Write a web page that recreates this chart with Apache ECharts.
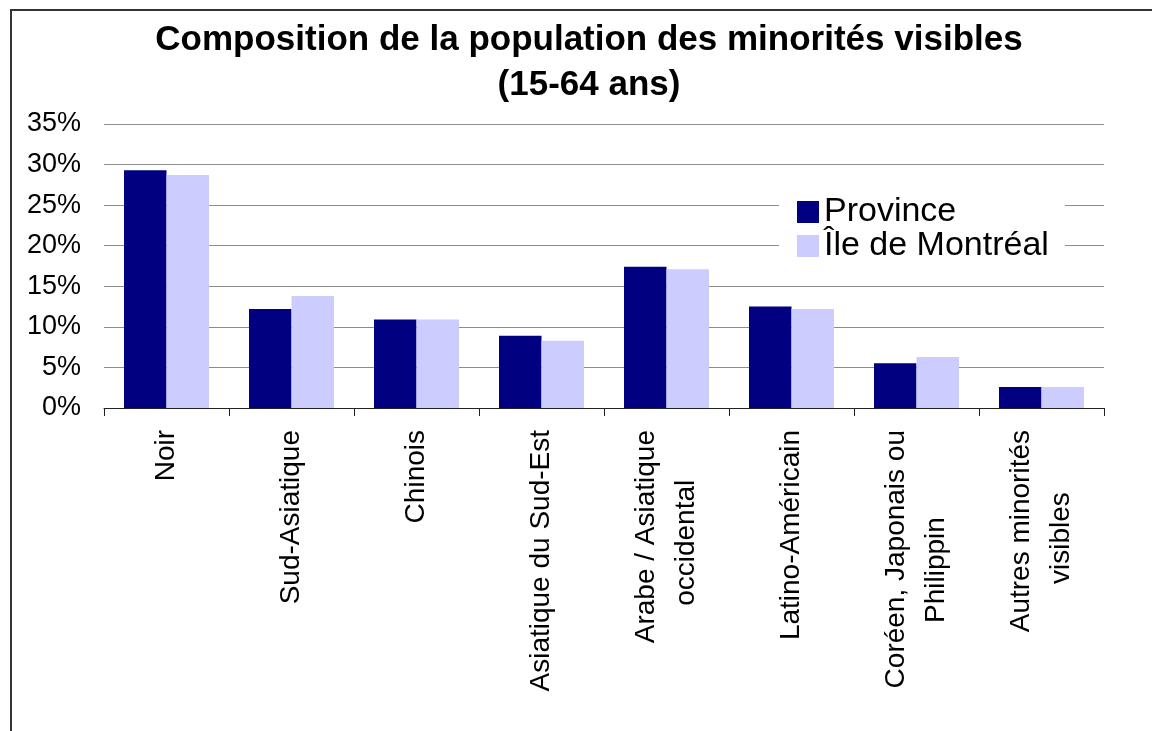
<!DOCTYPE html>
<html>
<head>
<meta charset="utf-8">
<script src="https://cdn.jsdelivr.net/npm/echarts@6/dist/echarts.min.js"></script>
<style>
  html, body { margin: 0; padding: 0; background: #fff; }
  #chart { width: 1152px; height: 731px; }
</style>
</head>
<body>
<div id="chart"></div>
<script>
// données
const categories = [
  'Noir',
  'Sud-Asiatique',
  'Chinois',
  'Asiatique du Sud-Est',
  'Arabe / Asiatique\noccidental',
  'Latino-Américain',
  'Coréen, Japonais ou\nPhilippin',
  'Autres minorités\nvisibles'
];
const province = [29.3, 12.2, 10.9, 8.9, 17.4, 12.5, 5.5, 2.6];
const montreal = [28.7, 13.8, 10.9, 8.3, 17.1, 12.2, 6.3, 2.6];
const yTicks = { min: 0, max: 35, interval: 5 };

const FONT = '"Liberation Sans", Arial, sans-serif';
const LABEL_SIZE = 28;

// les étiquettes sur deux lignes sont centrées l'une sur l'autre :
// les lignes s'alignent côté axe, on ajoute donc un bout de texte
// transparent au bout de la ligne courte pour la recentrer
const ctx = document.createElement('canvas').getContext('2d');
ctx.font = LABEL_SIZE + 'px ' + FONT;
const padW = ctx.measureText('i').width;
const centerLines = (cat) => {
  const lines = String(cat).split('\n');
  const widths = lines.map(s => ctx.measureText(s).width);
  const maxW = Math.max(...widths);
  return lines.map((s, j) => {
    const shift = widths[j] < maxW ? (maxW - widths[j]) / 2 + 8 : 0; // Excel garde l'espace de fin de ligne
    const n = Math.round(shift / padW);
    return '{t|' + s + '}' + (n > 0 ? '{p|' + 'i'.repeat(n) + '}' : '');
  }).join('\n');
};

const chart = echarts.init(document.getElementById('chart'));

const option = {
  backgroundColor: '#fff',
  animation: false,
  title: {
    text: 'Composition de la population des minorités visibles\n(15-64 ans)',
    left: 584,
    top: 13,
    textAlign: 'center',
    textStyle: {
      fontFamily: FONT,
      fontSize: 35,
      fontWeight: 'bold',
      color: '#000',
      lineHeight: 45
    }
  },
  legend: {
    orient: 'vertical',
    left: 779,
    top: 185,
    padding: [10, 16, 10, 18],
    backgroundColor: '#fff',
    itemWidth: 22,
    itemHeight: 22,
    itemGap: 0,
    icon: 'rect',
    textStyle: { fontFamily: FONT, fontSize: 34, color: '#000' },
    data: ['Province', 'Île de Montréal']
  },
  grid: { left: 104, right: 48, top: 124, bottom: 323, containLabel: false },
  xAxis: {
    type: 'category',
    data: categories,
    axisLine: { lineStyle: { color: '#222', width: 1 } },
    axisTick: { show: true, length: 8, lineStyle: { color: '#222' } },
    axisLabel: {
      interval: 0,
      rotate: 90,
      margin: 22,
      color: '#000',
      fontFamily: FONT,
      fontSize: LABEL_SIZE,
      lineHeight: 40,
      formatter: function (value) { return centerLines(value); },
      rich: {
        t: { fontFamily: FONT, fontSize: LABEL_SIZE, lineHeight: 40, color: '#000' },
        p: { fontFamily: FONT, fontSize: LABEL_SIZE, lineHeight: 40, color: 'rgba(0,0,0,0)' }
      }
    }
  },
  yAxis: {
    type: 'value',
    min: yTicks.min,
    max: yTicks.max,
    interval: yTicks.interval,
    axisLine: { show: false },
    axisTick: { show: false },
    splitLine: { lineStyle: { color: '#8c8c8c', width: 1 } },
    axisLabel: {
      formatter: '{value}%',
      margin: 23,
      color: '#000',
      fontFamily: FONT,
      fontSize: 27
    }
  },
  series: [
    {
      name: 'Province',
      type: 'bar',
      data: province,
      barGap: '0%',
      barCategoryGap: '32%',
      itemStyle: { color: '#000080' }
    },
    {
      name: 'Île de Montréal',
      type: 'bar',
      data: montreal,
      itemStyle: { color: '#CCCCFF' }
    }
  ],
  graphic: [
    {
      type: 'rect',
      shape: { x: 11, y: 10, width: 1200, height: 800 },
      style: { fill: 'none', stroke: '#333', lineWidth: 2 },
      silent: true
    }
  ]
};

chart.setOption(option);
</script>
</body>
</html>
